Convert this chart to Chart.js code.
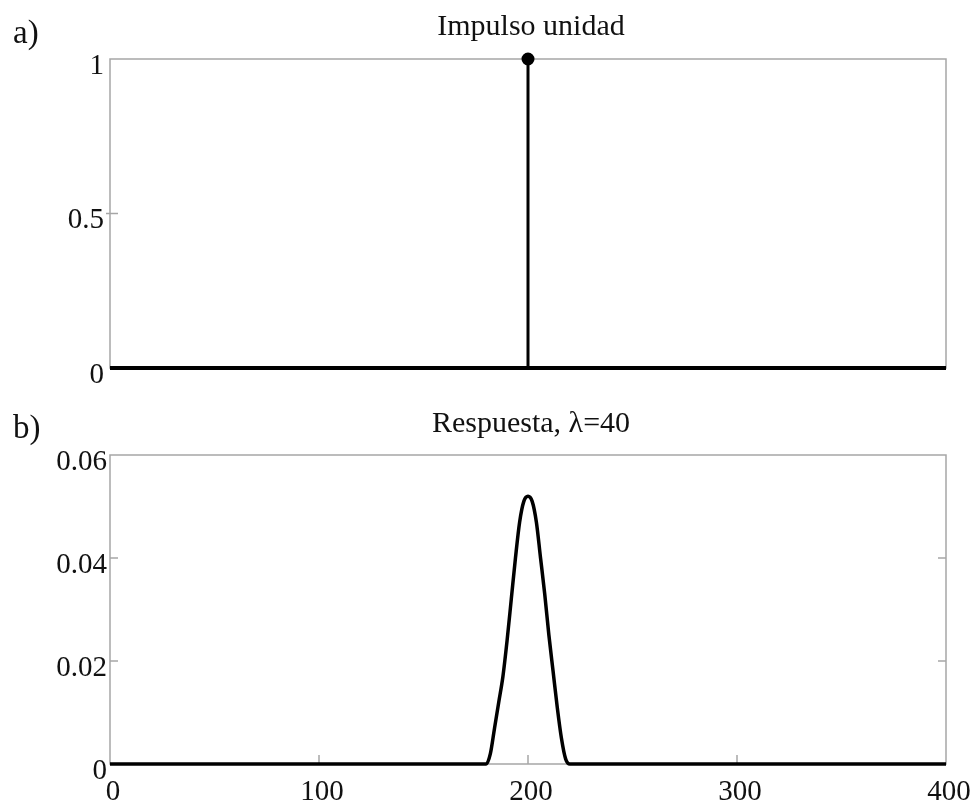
<!DOCTYPE html>
<html>
<head>
<meta charset="utf-8">
<script src="https://cdn.jsdelivr.net/npm/chart.js@4.4.1/dist/chart.umd.min.js"></script>
<style>
  html, body { margin: 0; padding: 0; background: #fff; }
  #wrap { position: relative; width: 979px; height: 807px; }
  canvas { position: absolute; left: 0; }
  #top { top: 0; }
  #bottom { top: 400px; }
</style>
</head>
<body>
<div id="wrap">
  <canvas id="top" width="979" height="400"></canvas>
  <canvas id="bottom" width="979" height="407"></canvas>
</div>
<script>
// data
const nRange = [0, 400];
const impulseN = 200;
const impulseValue = 1;

const respN = [0, 180, 182, 184, 186, 188, 190, 192, 194, 196, 198, 200, 202, 204, 206, 208, 210, 212, 214, 216, 218, 220, 400];
const respY = [0, 0, 0.002, 0.007, 0.012, 0.017, 0.024, 0.032, 0.040, 0.047, 0.051, 0.052, 0.051, 0.047, 0.040, 0.033, 0.025, 0.018, 0.011, 0.005, 0.001, 0, 0];

const xTicks = [0, 100, 200, 300, 400];
const topYTicks = [0, 0.5, 1];
const bottomYTicks = [0, 0.02, 0.04, 0.06];

const FONT = "'Liberation Serif', 'Times New Roman', serif";
const FRAME = '#a6a6a6';

// frame, inward ticks and free texts
const framePlugin = {
    id: 'frame',
    beforeDatasetsDraw(chart, args, opts) {
        const a = chart.chartArea;
        const c = chart.ctx;
        c.save();
        c.strokeStyle = FRAME;
        c.lineWidth = 1.5;
        c.strokeRect(a.left, a.top, a.right - a.left, a.bottom - a.top);
        const ys = chart.scales.y;
        const xs = chart.scales.x;
        c.beginPath();
        (opts.yTicks || []).forEach(v => {
            if (v === ys.min || v === ys.max) return;
            const y = ys.getPixelForValue(v);
            c.moveTo(a.left - (opts.cross ? 4 : 0), y);
            c.lineTo(a.left + 8, y);
            if (opts.right) {
                c.moveTo(a.right - 8, y);
                c.lineTo(a.right, y);
            }
        });
        (opts.xTicks || []).forEach(v => {
            if (v === xs.min || v === xs.max) return;
            const x = xs.getPixelForValue(v);
            c.moveTo(x, a.bottom);
            c.lineTo(x, a.bottom - 9);
        });
        c.stroke();
        c.restore();
    },
    afterDraw(chart, args, opts) {
        const a = chart.chartArea;
        const c = chart.ctx;
        c.save();
        c.fillStyle = '#111';
        c.textBaseline = 'alphabetic';
        c.font = '30px ' + FONT;
        c.textAlign = 'center';
        c.fillText(opts.title, (a.left + a.right) / 2 + 3, opts.titleY);
        c.font = '33px ' + FONT;
        c.textAlign = 'left';
        c.fillText(opts.tag, 13, opts.tagY);
        c.restore();
    }
};

const tickFont = { family: FONT, size: 29 };

new Chart(document.getElementById('top').getContext('2d'), {
    type: 'line',
    data: {
        datasets: [
            {
                data: nRange.map(n => ({ x: n, y: 0 })),
                borderColor: '#000',
                borderWidth: 4,
                pointRadius: 0,
                clip: false
            },
            {
                data: [{ x: impulseN, y: 0 }, { x: impulseN, y: impulseValue }],
                borderColor: '#000',
                borderWidth: 3,
                pointRadius: [0, 5],
                pointBackgroundColor: '#000',
                pointBorderColor: '#000',
                clip: false
            }
        ]
    },
    options: {
        responsive: false,
        animation: false,
        layout: { padding: { top: 59, right: 33, bottom: 32, left: 0 } },
        plugins: {
            legend: { display: false },
            tooltip: { enabled: false },
            frame: { yTicks: topYTicks, cross: true, right: false, title: 'Impulso unidad', titleY: 35, tag: 'a)', tagY: 43 }
        },
        scales: {
            x: { type: 'linear', min: nRange[0], max: nRange[1], display: false },
            y: {
                min: 0, max: 1,
                afterBuildTicks: s => { s.ticks = topYTicks.map(v => ({ value: v })); },
                afterFit: s => { s.width = 110; },
                grid: { display: false, drawTicks: false },
                border: { display: false },
                ticks: {
                    color: '#111', font: tickFont, padding: 6, labelOffset: 7,
                    callback: v => String(v)
                }
            }
        }
    },
    plugins: [framePlugin]
});

new Chart(document.getElementById('bottom').getContext('2d'), {
    type: 'line',
    data: {
        datasets: [
            {
                data: respN.map((n, i) => ({ x: n, y: respY[i] })),
                borderColor: '#000',
                borderWidth: 3.5,
                pointRadius: 0,
                cubicInterpolationMode: 'monotone',
                clip: false
            }
        ]
    },
    options: {
        responsive: false,
        animation: false,
        layout: { padding: { top: 55, right: 33, bottom: 0, left: 0 } },
        plugins: {
            legend: { display: false },
            tooltip: { enabled: false },
            frame: { yTicks: bottomYTicks, xTicks: xTicks, cross: false, right: true, title: 'Respuesta, λ=40', titleY: 32, tag: 'b)', tagY: 38 }
        },
        scales: {
            x: {
                type: 'linear', min: nRange[0], max: nRange[1],
                afterBuildTicks: s => { s.ticks = xTicks.map(v => ({ value: v })); },
                afterFit: s => { s.height = 43; },
                grid: { display: false, drawTicks: false },
                border: { display: false },
                ticks: { color: '#111', font: tickFont, padding: 11, labelOffset: 3, maxRotation: 0, callback: v => String(v) }
            },
            y: {
                min: 0, max: 0.06,
                afterBuildTicks: s => { s.ticks = bottomYTicks.map(v => ({ value: v })); },
                afterFit: s => { s.width = 110; },
                grid: { display: false, drawTicks: false },
                border: { display: false },
                ticks: {
                    color: '#111', font: tickFont, padding: 3, labelOffset: 7,
                    callback: v => String(+v.toFixed(2))
                }
            }
        }
    },
    plugins: [framePlugin]
});
</script>
</body>
</html>
